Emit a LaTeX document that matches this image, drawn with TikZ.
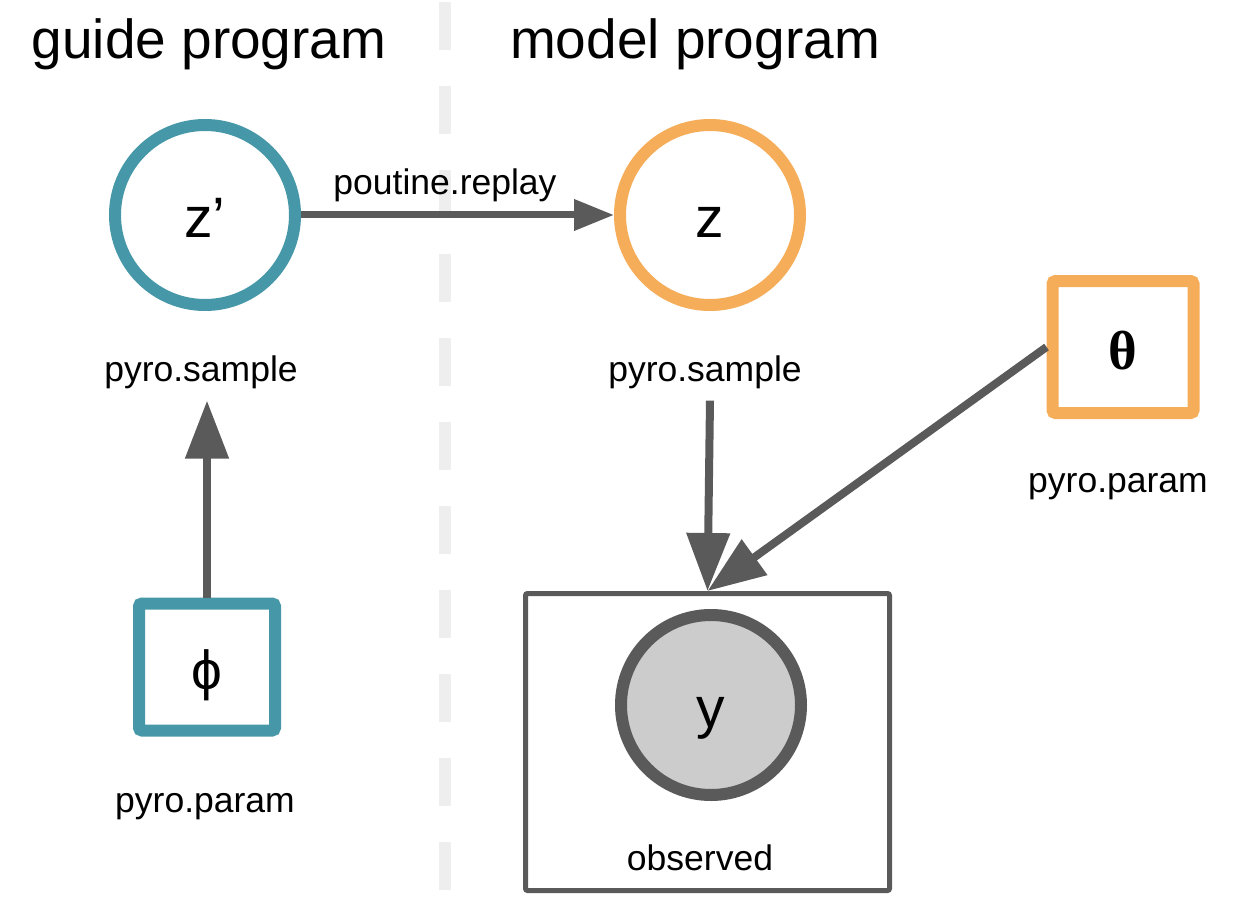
\documentclass[tikz,border=0pt]{standalone}
\usepackage{fontspec}
\setmainfont{Liberation Sans}
\newfontfamily\greekserif{Liberation Serif}
\usetikzlibrary{arrows.meta}
\definecolor{guideteal}{HTML}{4697A7}
\definecolor{modelorange}{HTML}{F5AD59}
\definecolor{edgegray}{HTML}{5A5A5A}
\definecolor{obsfill}{HTML}{CCCCCC}
\definecolor{splitgray}{HTML}{EEEEEE}

\begin{document}
\begin{tikzpicture}[x=1pt, y=-1pt,
  heading/.style={font=\fontsize{55}{60}\selectfont, anchor=base, inner sep=0pt},
  lbl/.style={font=\fontsize{35.5}{40}\selectfont, anchor=base, inner sep=0pt, text=black},
  samplelbl/.style={lbl, inner ysep=12pt},
  randvar/.style={circle, line width=12pt, minimum size=180pt, inner sep=0pt,
                  font=\fontsize{57}{60}\selectfont, text height=56pt, text depth=11pt},
  parambox/.style={rectangle, line width=12pt, rounded corners=3pt, inner sep=0pt,
                   font=\fontsize{55}{60}\selectfont, text height=55pt, text depth=11pt},
  link/.style={edgegray, line width=8pt, -{Triangle[length=58pt, width=42pt]}}]
  \useasboundingbox (0,0) rectangle (1242,920);

  %% dashed split between guide and model
  \draw[splitgray, line width=12pt, dash pattern=on 48pt off 36pt] (445,2) -- (445,892);

  %% headings
  \node[heading] (guidehead) at (209,59) {guide program};
  \node[heading] (modelhead) at (695,59) {model program};

  %% guide side
  \node[randvar, draw=guideteal] (zp) at (205,215) {z’};
  \node[samplelbl] (gsample) at (201,381) {pyro.sample};
  \node[parambox, draw=guideteal, minimum width=136pt, minimum height=127pt]
    (phi) at (207,667) {ϕ};
  \node[lbl] (gparam) at (205,812) {pyro.param};

  %% model side
  \node[randvar, draw=modelorange] (z) at (710,215) {z};
  \node[samplelbl] (zsample) at (705,381) {pyro.sample};
  \node[parambox, draw=modelorange, minimum width=141pt, minimum height=132pt]
    (theta) at (1123,347) {\greekserif\bfseries θ};
  \node[lbl] (mparam) at (1118,492) {pyro.param};

  %% observed plate
  \node[draw=edgegray, line width=5pt, rounded corners=2pt, minimum width=364pt,
        minimum height=297pt, inner sep=0pt] (plate) at (707.5,742) {};
  \node[randvar, draw=edgegray, fill=obsfill] (y) at (711,705) {y};
  \node[lbl] (obs) at (700,870) {observed};

  %% connectors
  \draw[link, line width=7pt, -{Triangle[length=40pt, width=30pt]}] (zp) -- (z)
    node[lbl, pos=0.46, yshift=20pt] (replay) {poutine.replay};
  \draw[link] (phi.north) -- (gsample.south -| phi.north);
  \draw[link] (zsample.south -| z) -- (plate.north);
  \draw[link] (theta.west) -- (plate.north);

\end{tikzpicture}
\end{document}
